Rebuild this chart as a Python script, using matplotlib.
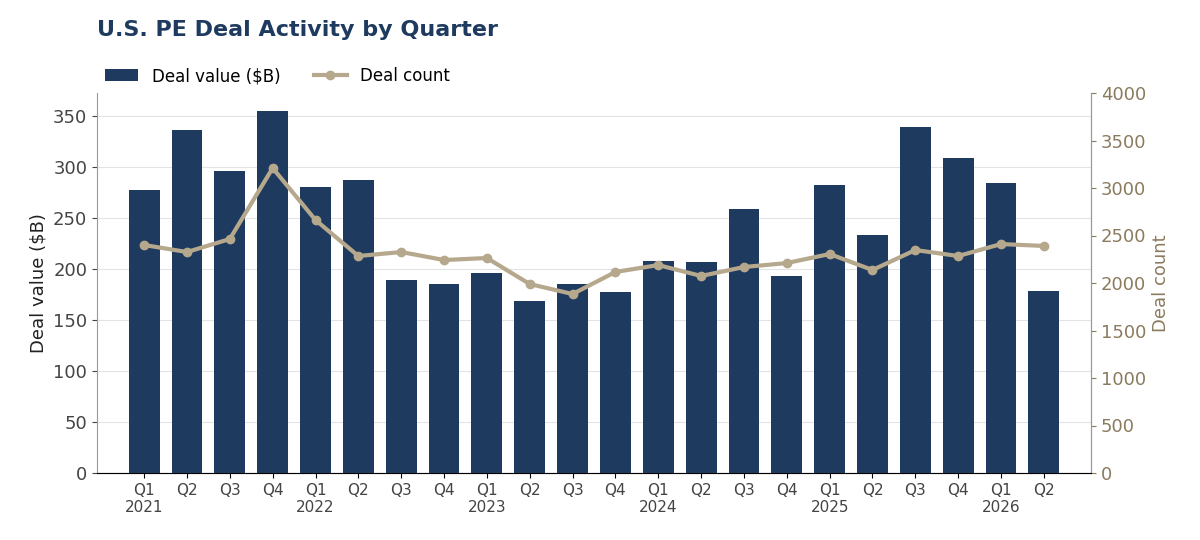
import matplotlib
matplotlib.use("Agg")
import matplotlib.pyplot as plt
import numpy as np

quarters = ["Q1","Q2","Q3","Q4"]*5 + ["Q1","Q2"]
years = ["2021","","","","2022","","","","2023","","","","2024","","","","2025","","","","2026",""]
deal_value = [277,336,296,355,280,287,189,185,196,169,185,177,208,207,259,193,282,233,339,309,284,178]
deal_count = [2400,2326,2463,3210,2663,2284,2326,2242,2263,1989,1884,2116,2189,2074,2168,2210,2305,2137,2347,2284,2410,2390]

navy = "#1f3a5f"; tan = "#b5a88c"; tan_txt = "#8b7b5e"
fig = plt.figure(figsize=(12, 5.4), dpi=100)
ax = fig.add_axes([97/1200, 1-473/540, (1091-97)/1200, 380/540])
x = np.arange(len(deal_value))
b = ax.bar(x, deal_value, width=0.72, color=navy, label="Deal value ($B)", zorder=2)
ax.set_ylim(0, 372.5)
ax.set_xlim(-1.1, len(x)+0.1)
ax.set_yticks(range(0, 351, 50))
ax.grid(axis="y", color="#e3e3e3", lw=0.8, zorder=0)
ax.set_axisbelow(True)
ax.set_xticks(x)
ax.set_xticklabels([q + ("\n"+y if y else "") for q, y in zip(quarters, years)], fontsize=11, color="#444")
ax.tick_params(axis="y", labelsize=13, colors="#444")
ax.set_ylabel("Deal value ($B)", fontsize=13, color="#222")
for s in ["top"]:
    ax.spines[s].set_visible(False)
for s in ["left", "bottom", "right"]:
    ax.spines[s].set_color("#999")
ax2 = ax.twinx()
l, = ax2.plot(x, deal_count, color=tan, lw=3, marker="o", ms=6, label="Deal count", zorder=3)
ax2.set_ylim(0, 4000)
ax2.set_yticks(range(0, 4001, 500))
ax2.tick_params(axis="y", labelsize=13, colors=tan_txt)
ax2.set_ylabel("Deal count", fontsize=13, color=tan_txt)
ax2.spines["top"].set_visible(False)
ax2.spines["right"].set_color("#999")
ax2.spines["left"].set_visible(False)
fig.text(97/1200, 1-30/540, "U.S. PE Deal Activity by Quarter", fontsize=16, fontweight="bold", color=navy, va="center")
fig.legend([b, l], ["Deal value ($B)", "Deal count"], loc="center left", bbox_to_anchor=(90/1200, 1-76/540),
           ncol=2, frameon=False, fontsize=12)
fig.savefig("out.png", dpi=100)
